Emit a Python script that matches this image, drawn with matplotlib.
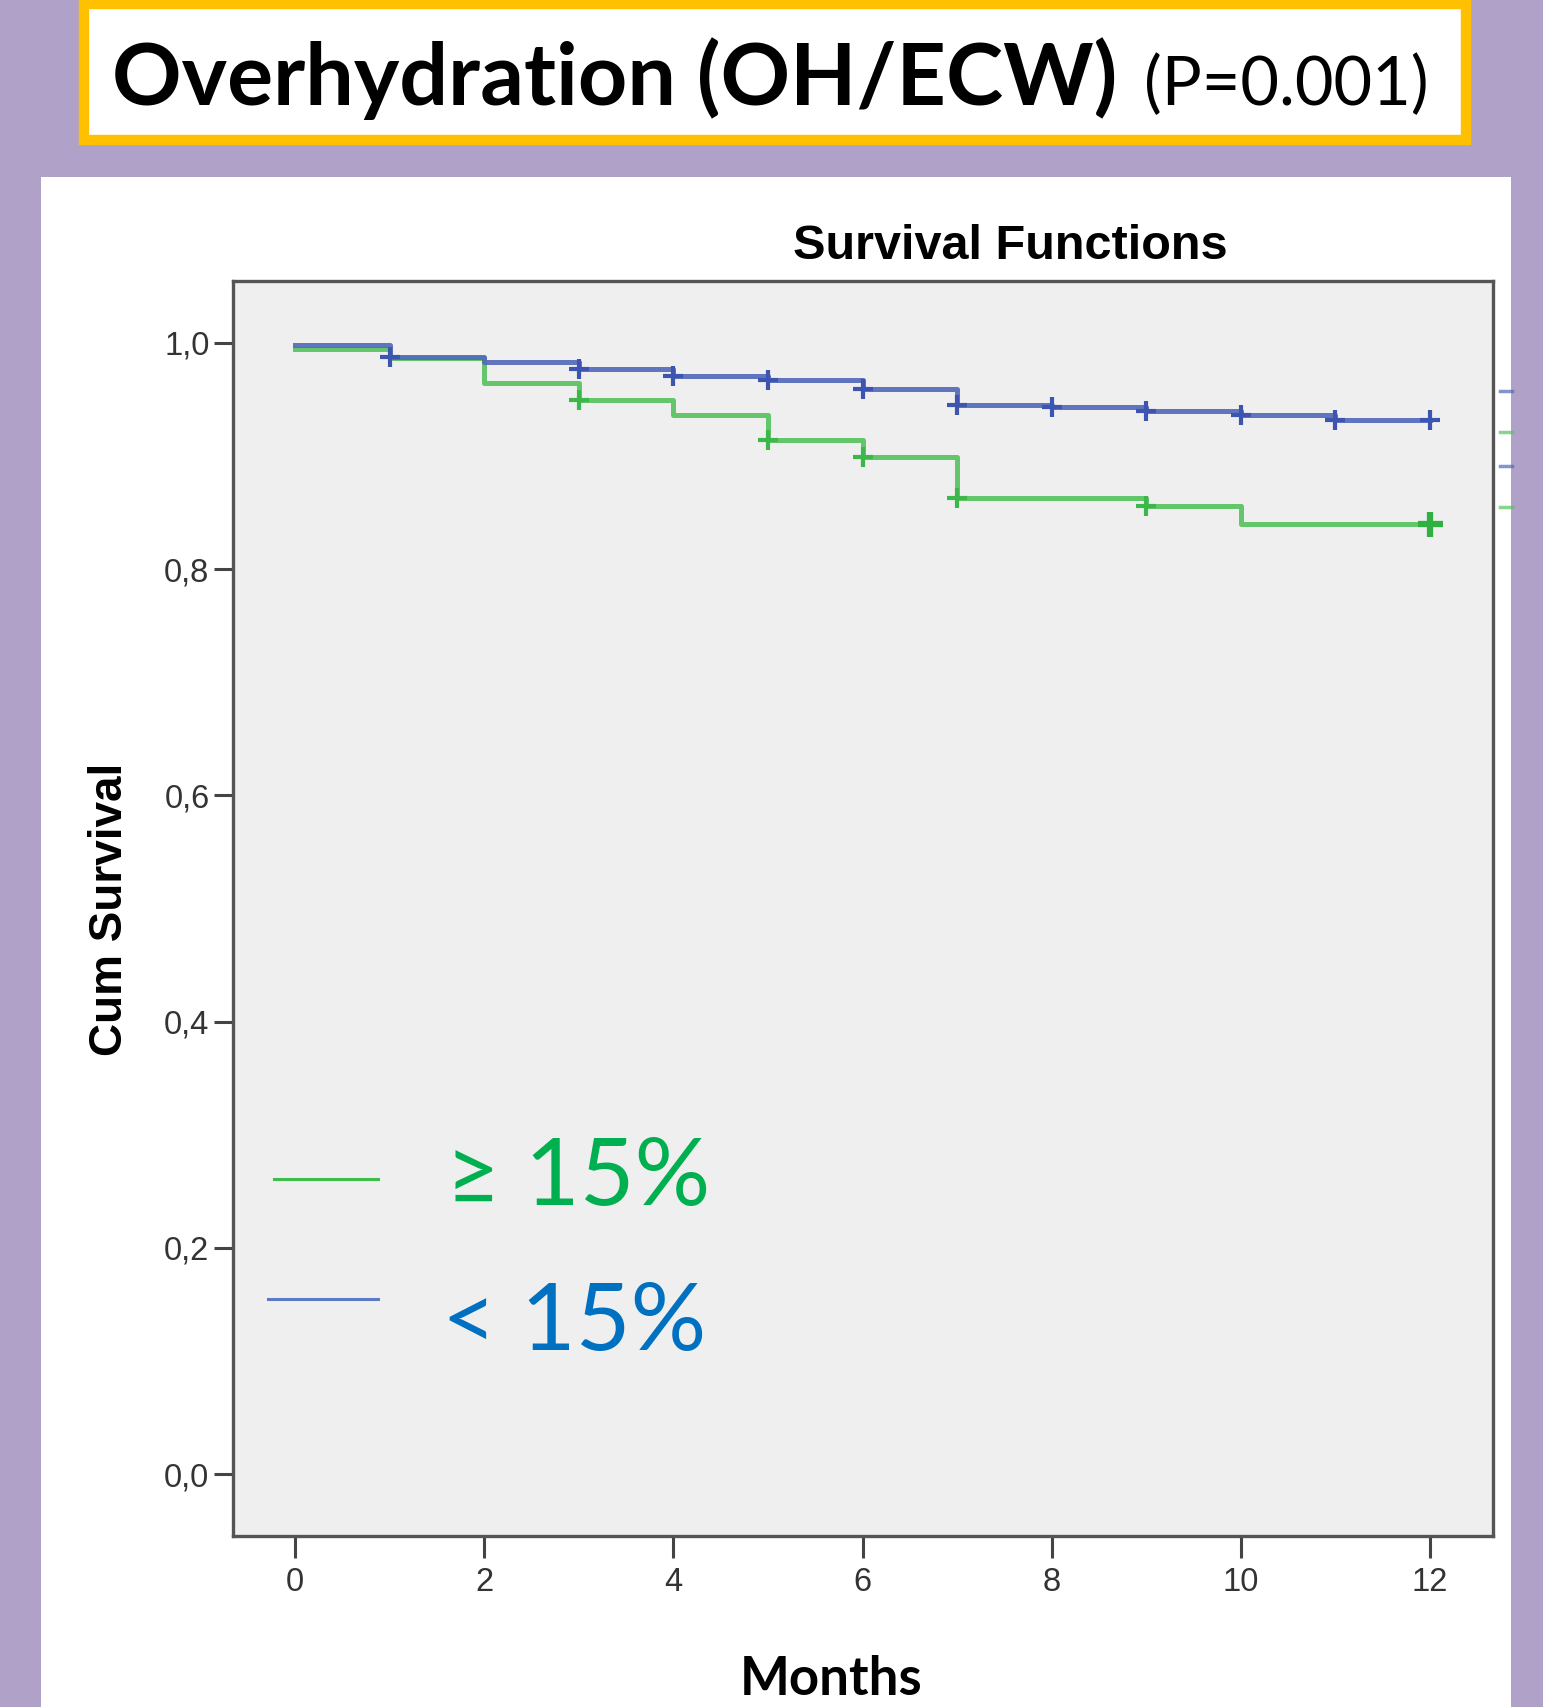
import matplotlib
matplotlib.use("Agg")
import matplotlib.pyplot as plt
from matplotlib.patches import Rectangle
from matplotlib.lines import Line2D
from matplotlib.ticker import FuncFormatter

# Kaplan-Meier steps
months_hi = [0, 1, 2, 3, 4, 5, 6, 7, 9, 10, 12]
surv_hi = [0.995, 0.987, 0.965, 0.950, 0.936, 0.914, 0.899, 0.8625, 0.856, 0.840, 0.840]
censor_hi = [3, 5, 6, 7, 9, 12]

months_lo = [0, 1, 2, 3, 4, 5, 6, 7, 8, 9, 10, 11, 12]
surv_lo = [0.998, 0.988, 0.983, 0.977, 0.971, 0.967, 0.959, 0.945, 0.943, 0.940, 0.936, 0.932, 0.932]
censor_lo = [1, 3, 4, 5, 6, 7, 8, 9, 10, 11, 12]

group_labels = ["\u2265 15%", "< 15%"]
y_ticks = [0.0, 0.2, 0.4, 0.6, 0.8, 1.0]
x_ticks = [0, 2, 4, 6, 8, 10, 12]

W, H = 1543, 1707
GREEN = "#55c25c"
BLUE = "#5068b8"


def fx(px):
    return px / W


def fy(py):
    return 1 - py / H


def surv_at(times, values, t):
    """valeur de la courbe (step post) au temps t"""
    val = values[0]
    for ti, vi in zip(times, values):
        if ti <= t:
            val = vi
    return val


fig = plt.figure(figsize=(W / 100, H / 100), dpi=100)
fig.patch.set_facecolor("#b0a1c8")

# panneau blanc + cadre du titre
fig.add_artist(Rectangle((fx(41), 0), fx(1511) - fx(41), fy(177), transform=fig.transFigure,
                         facecolor="white", edgecolor="none", zorder=0))
fig.add_artist(Rectangle((fx(84), fy(140)), fx(1466) - fx(84), fy(4) - fy(140), transform=fig.transFigure,
                         facecolor="white", edgecolor="#ffc000", linewidth=7.5, zorder=1))

fig.text(fx(112), fy(105), "Overhydration (OH/ECW)", fontsize=62, fontweight="bold",
         family="Lato", va="baseline", ha="left")
fig.text(fx(1144), fy(105), "(P=0.001)", fontsize=48, family="Lato", va="baseline", ha="left")

ax = fig.add_axes([fx(233), fy(1536), fx(1493) - fx(233), fy(281) - fy(1536)])
ax.set_facecolor("#efefef")

ax.step(months_hi, surv_hi, where="post", color=GREEN, linewidth=3.6, alpha=0.9)
ax.step(months_lo, surv_lo, where="post", color=BLUE, linewidth=3.6, alpha=0.9)
ax.plot(censor_hi, [surv_at(months_hi, surv_hi, t) for t in censor_hi], linestyle="none",
        marker="+", markersize=15, markeredgewidth=3, color="#3cb84a")
ax.plot(censor_lo, [surv_at(months_lo, surv_lo, t) for t in censor_lo], linestyle="none",
        marker="+", markersize=15, markeredgewidth=3, color="#3d55b0")
# plusieurs censures a 12 mois
ax.plot([12], [surv_at(months_hi, surv_hi, 12)], marker="+", markersize=18, markeredgewidth=4.5, color="#2fb040")

ax.set_xlim(-0.656, 12.666)
ax.set_ylim(-0.0548, 1.0548)
ax.set_xticks(x_ticks)
ax.set_yticks(y_ticks)
ax.yaxis.set_major_formatter(FuncFormatter(lambda v, p: f"{v:.1f}".replace(".", ",")))
ax.tick_params(axis="y", length=14, width=2.2, color="#444444", pad=3, labelsize=23.5, labelcolor="#333333")
ax.tick_params(axis="x", length=16, width=2.2, color="#444444", pad=6, labelsize=23.5, labelcolor="#333333")
for lab in ax.get_xticklabels() + ax.get_yticklabels():
    lab.set_family("Liberation Sans")
for sp in ax.spines.values():
    sp.set_color("#555555")
    sp.set_linewidth(2.4)

fig.text(fx(1010), fy(259), "Survival Functions", fontsize=35, fontweight="bold",
         family="Liberation Sans", ha="center", va="baseline")
fig.text(fx(110), fy(909), "Cum Survival", fontsize=33, fontweight="bold", family="Liberation Sans",
         rotation=90, ha="center", va="center")
fig.text(fx(831), fy(1695), "Months", fontsize=38, fontweight="bold", family="Lato",
         ha="center", va="baseline")

# legende dessinee a la main
fig.add_artist(Line2D([fx(274), fx(378)], [fy(1179), fy(1179)], transform=fig.transFigure,
                      color="#3cbf4a", linewidth=2.2))
fig.add_artist(Line2D([fx(268), fx(378)], [fy(1299), fy(1299)], transform=fig.transFigure,
                      color="#5b7cc4", linewidth=2.2))
fig.text(fx(446), fy(1205), group_labels[0], fontsize=68, color="#00b050",
         family=["Lato", "DejaVu Sans"], va="baseline", ha="left")
fig.text(fx(442), fy(1350), group_labels[1], fontsize=68, color="#0070c0",
         family=["Lato", "DejaVu Sans"], va="baseline", ha="left")

# bouts de la legende SPSS coupee a droite
for py, c in [(391, BLUE), (432, GREEN), (466, BLUE), (507, GREEN)]:
    fig.add_artist(Line2D([fx(1500), fx(1512)], [fy(py), fy(py)], transform=fig.transFigure,
                          color=c, linewidth=2.5, alpha=0.7))

fig.savefig("out.png", dpi=100, facecolor=fig.get_facecolor())
